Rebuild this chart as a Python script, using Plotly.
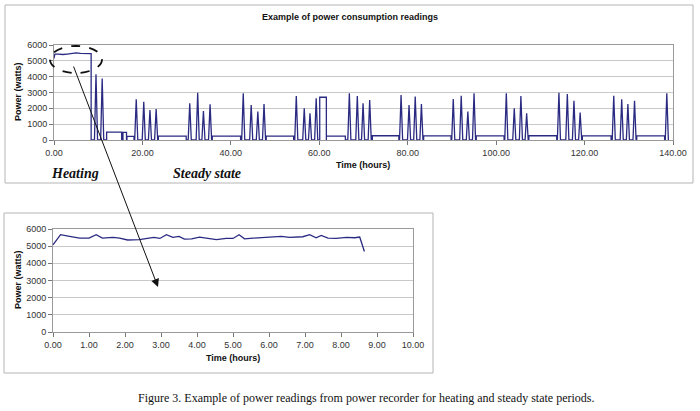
import plotly.graph_objects as go

# ---------------- data ----------------
# Heating period readings (hours, watts) - lower (zoomed) chart
heat_t = [0.0, 0.21, 0.46, 0.74, 1.0, 1.2, 1.37, 1.67, 1.85, 2.07, 2.4, 2.6, 2.8, 2.97,
          3.15, 3.33, 3.5, 3.65, 3.85, 4.07, 4.3, 4.54, 4.81, 5.0, 5.17, 5.32, 5.56,
          5.83, 6.11, 6.34, 6.57, 6.76, 6.94, 7.13, 7.31, 7.45, 7.64, 7.87, 8.15,
          8.38, 8.52, 8.65]
heat_p = [5080, 5670, 5570, 5470, 5470, 5670, 5470, 5510, 5470, 5360, 5380, 5430, 5510, 5450,
          5670, 5510, 5570, 5410, 5430, 5530, 5470, 5380, 5450, 5450, 5670, 5430, 5470,
          5490, 5510, 5570, 5510, 5530, 5550, 5670, 5490, 5630, 5470, 5450, 5510,
          5490, 5530, 4690]

# Heating period as seen in the full-run chart (coarser readings)
run_heat_t = [0.0, 0.2, 1.0, 2.0, 3.0, 4.0, 5.0, 6.0, 7.0, 8.0, 8.4]
run_heat_p = [5150, 5430, 5430, 5400, 5430, 5480, 5500, 5470, 5480, 5450, 5450]

# Steady-state compressor spikes (peak time in hours, peak watts)
spike_t = [9.5, 10.9, 18.6, 20.3, 21.7, 23.1, 30.7, 32.5, 33.8, 35.3, 42.8, 44.6, 46.1, 47.5,
           54.8, 56.6, 57.9, 59.3, 66.8, 68.6, 69.9, 71.4, 78.5, 80.3, 81.7, 83.1,
           90.3, 92.1, 93.6, 95.0, 102.3, 104.1, 105.6, 106.9, 114.2, 116.1, 117.6, 119.0,
           126.6, 128.4, 129.8, 131.3, 138.6]
spike_p = [4150, 3880, 2570, 2420, 1900, 1960, 2320, 2990, 1830, 2250, 2950, 2210, 1790, 2270,
           2780, 2000, 1680, 2630, 2950, 2780, 2320, 2530, 2840, 2210, 2740, 2270,
           2590, 2800, 1790, 2950, 2950, 2000, 2780, 1680, 2990, 2900, 2480, 1730,
           2800, 2570, 2270, 2480, 2950]

# Flat segments (start hour, end hour, watts)
seg_start = [11.9, 15.6, 16.5, 23.6, 35.8, 48.0, 60.1, 61.6, 72.0, 83.6, 95.5, 107.4, 119.5, 131.8]
seg_end   = [15.3, 16.4, 18.1, 29.9, 42.2, 54.2, 61.6, 65.9, 78.0, 89.8, 101.8, 113.7, 126.0, 138.1]
seg_level = [500, 480, 230, 250, 250, 250, 2700, 250, 270, 260, 260, 270, 260, 260]

x_ticks_top = [0, 20, 40, 60, 80, 100, 120, 140]
x_ticks_bot = [0, 1, 2, 3, 4, 5, 6, 7, 8, 9, 10]
y_ticks = [0, 1000, 2000, 3000, 4000, 5000, 6000]

# ---------------- build the full-run trace ----------------
events = [(t, "s", p, None) for t, p in zip(spike_t, spike_p)] + \
         [(s, "g", lv, e) for s, e, lv in zip(seg_start, seg_end, seg_level)]
events.sort(key=lambda ev: ev[0])
top_x = list(run_heat_t) + [run_heat_t[-1]]
top_y = list(run_heat_p) + [0]
hw = 0.35
for t, kind, val, e in events:
    if kind == "s":
        top_x += [t - hw, t, t + hw]
        top_y += [0, val, 0]
    else:
        top_x += [t, t, e, e]
        top_y += [0, val, val, 0]

LINE = "#2a2a82"
FONT = "Liberation Sans, Arial, sans-serif"
SERIF = "Liberation Serif, Times New Roman, serif"

fig = go.Figure()
fig.add_trace(go.Scatter(x=top_x, y=top_y, mode="lines",
                         line=dict(color=LINE, width=1.3), xaxis="x", yaxis="y",
                         showlegend=False, hoverinfo="skip"))
fig.add_trace(go.Scatter(x=heat_t, y=heat_p, mode="lines",
                         line=dict(color=LINE, width=1.3), xaxis="x2", yaxis="y2",
                         showlegend=False, hoverinfo="skip"))

W, H = 700, 411
def px(x): return x / W
def py(y): return 1 - y / H

def axis_common():
    return dict(showline=True, mirror=True, linecolor="#9a9a9a", linewidth=1,
                ticks="outside", ticklen=4, tickcolor="#777", automargin=False,
                tickfont=dict(family=FONT, size=9, color="#333"), zeroline=False)

fig.update_layout(
    template="none",
    width=W, height=H, margin=dict(l=0, r=0, t=0, b=0, pad=0),
    paper_bgcolor="white", plot_bgcolor="white", showlegend=False,
    xaxis=dict(domain=[px(54), px(673)], range=[0, 140], tickvals=x_ticks_top,
               tickformat=".2f", showgrid=False, anchor="y", **axis_common()),
    yaxis=dict(domain=[py(140), py(45)], range=[0, 6000], tickvals=y_ticks,
               tickformat="d", showgrid=True, gridcolor="#c9c9c9", gridwidth=1,
               anchor="x", **axis_common()),
    xaxis2=dict(domain=[px(53), px(413)], range=[0, 10], tickvals=x_ticks_bot,
                tickformat=".2f", showgrid=False, anchor="y2", **axis_common()),
    yaxis2=dict(domain=[py(332), py(229)], range=[0, 6000], tickvals=y_ticks,
                tickformat="d", showgrid=True, gridcolor="#c9c9c9", gridwidth=1,
                anchor="x2", **axis_common()),
)

shapes = [
    dict(type="rect", xref="paper", yref="paper", x0=px(5), x1=px(693), y0=py(183), y1=py(5),
         line=dict(color="#b5b5b5", width=1), layer="below"),
    dict(type="rect", xref="paper", yref="paper", x0=px(4), x1=px(433), y0=py(373), y1=py(213),
         line=dict(color="#b5b5b5", width=1), layer="below"),
    dict(type="circle", xref="paper", yref="paper", x0=px(50), x1=px(102), y0=py(73), y1=py(46),
         line=dict(color="#111", width=1.8, dash="dash")),
]
fig.update_layout(shapes=shapes)

ann = [
    dict(text="<b>Example of power consumption readings</b>", x=px(350), y=py(17),
         font=dict(family=FONT, size=9, color="#111")),
    dict(text="<b>Time (hours)</b>", x=px(363), y=py(165),
         font=dict(family=FONT, size=9, color="#111")),
    dict(text="<b>Power (watts)</b>", x=px(18), y=py(92), textangle=-90,
         font=dict(family=FONT, size=9, color="#111")),
    dict(text="<b><i>Heating</i></b>", x=px(75), y=py(173),
         font=dict(family=SERIF, size=14, color="#111")),
    dict(text="<b><i>Steady state</i></b>", x=px(207), y=py(173),
         font=dict(family=SERIF, size=14, color="#111")),
    dict(text="<b>Time (hours)</b>", x=px(233), y=py(358),
         font=dict(family=FONT, size=9, color="#111")),
    dict(text="<b>Power (watts)</b>", x=px(18), y=py(280), textangle=-90,
         font=dict(family=FONT, size=9, color="#111")),
    dict(text="Figure 3. Example of power readings from power recorder for heating and steady state periods.",
         x=px(366), y=py(398), font=dict(family=SERIF, size=12, color="#111")),
]
annotations = []
for a in ann:
    a.update(xref="paper", yref="paper", showarrow=False, xanchor="center", yanchor="middle")
    annotations.append(a)
annotations.append(dict(xref="paper", yref="paper", x=px(158), y=py(287), text="",
                        showarrow=True, axref="pixel", ayref="pixel", ax=73 - 158, ay=65 - 287,
                        arrowhead=2, arrowsize=1.6, arrowwidth=1, arrowcolor="#111"))
fig.update_layout(annotations=annotations)

fig.write_html("out.html", config={"displayModeBar": False, "staticPlot": True},
               post_script="document.body.style.margin='0px';document.body.style.overflow='hidden';")
